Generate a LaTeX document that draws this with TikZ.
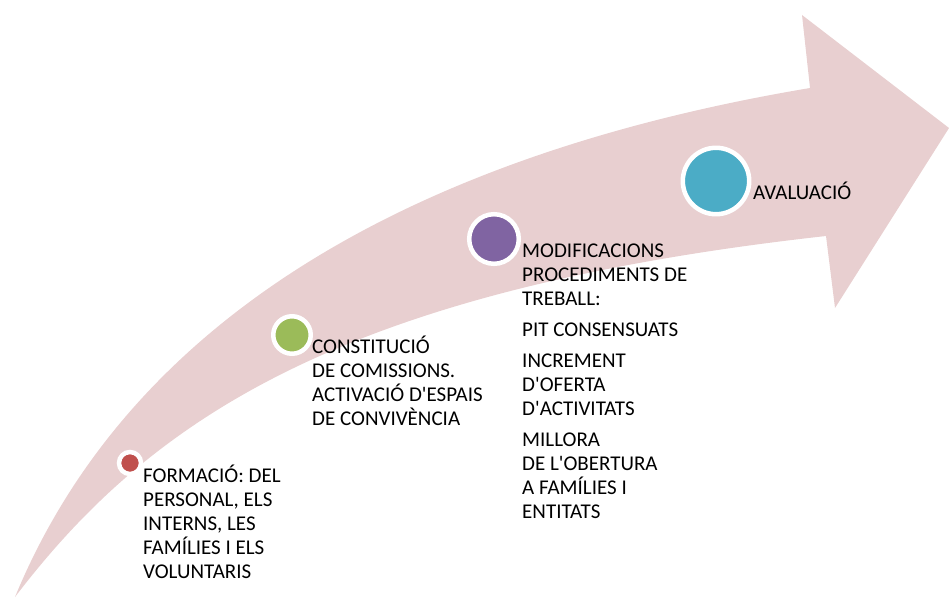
\documentclass[tikz,border=0pt]{standalone}
\usepackage{fontspec}
\setmainfont{Carlito}
\usetikzlibrary{positioning}
\definecolor{bandpink}{RGB}{232,207,208}
\definecolor{stepred}{RGB}{192,80,77}
\definecolor{stepgreen}{RGB}{155,187,89}
\definecolor{steppurple}{RGB}{128,100,162}
\definecolor{stepteal}{RGB}{75,172,198}
\newcommand{\apos}{\textquotesingle}
\tikzset{
	milestone/.style={circle, draw=white, line width=4.5pt, inner sep=0pt},
	% placed at the baseline of the last line
	steptext/.style={anchor=base west, align=left, inner sep=0pt,
		font=\fontsize{21}{24}\selectfont},
}

\begin{document}
\begin{tikzpicture}[x=1pt, y=-1pt]
	\useasboundingbox (0,0) rectangle (949,599);
	% curved arrow
	\fill[bandpink] (15,597) .. controls (150,270) and (500,140) .. (810,88)
		-- (802,15) -- (949,128) -- (835,308) -- (826,236)
		.. controls (340,290) and (150,420) .. (15,597) -- cycle;
	%
	\node[milestone, fill=stepred, minimum size=22pt] (formacio) at (130,463) {};
	\node[milestone, fill=stepgreen, minimum size=37.5pt] (comissions) at (292,335) {};
	\node[milestone, fill=steppurple, minimum size=49.6pt] (procediments) at (494,239) {};
	\node[milestone, fill=stepteal, minimum size=66.4pt] (avaluacio) at (716,181) {};
	%
	\node[steptext] (formaciotxt) at (143,578)
		{FORMACIÓ: DEL\\PERSONAL, ELS\\INTERNS, LES\\FAMÍLIES I ELS\\VOLUNTARIS};
	\node[steptext] (comissionstxt) at (312,425)
		{CONSTITUCIÓ\\DE COMISSIONS.\\ACTIVACIÓ D\apos ESPAIS\\DE CONVIVÈNCIA};
	\node[steptext] (procedimentstxt) at (522,518)
		{MODIFICACIONS\\PROCEDIMENTS DE\\TREBALL:\\[7pt]
		PIT CONSENSUATS\\[7pt]
		INCREMENT\\D\apos OFERTA\\D\apos ACTIVITATS\\[7pt]
		MILLORA\\DE L\apos OBERTURA\\A FAMÍLIES I\\ENTITATS};
	\node[steptext] (avaluaciotxt) at (753,199) {AVALUACIÓ};
\end{tikzpicture}
\end{document}
